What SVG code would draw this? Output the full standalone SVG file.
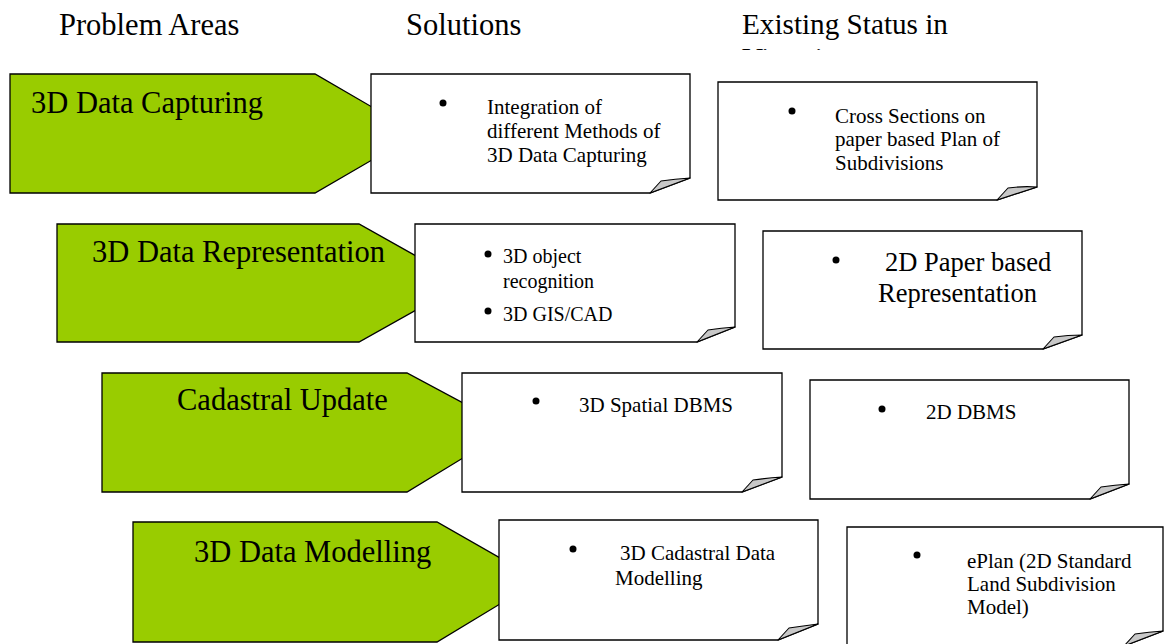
<svg xmlns="http://www.w3.org/2000/svg" width="1165" height="644" viewBox="0 0 1165 644">
<defs>
<style>
.arrow{fill:#99CC00;stroke:#000;stroke-width:1.3;stroke-linejoin:miter}
.note{fill:#fff;stroke:#000;stroke-width:1.3}
.flap{fill:#c8c8c8;stroke:#000;stroke-width:1.1;stroke-linejoin:round}
.h{font-family:"Liberation Serif","Times New Roman",serif;font-size:30.5px;fill:#000}
.h2{font-family:"Liberation Serif","Times New Roman",serif;font-size:29.2px;fill:#000}
.lbl{font-family:"Liberation Serif","Times New Roman",serif;font-size:30.5px;fill:#000}
.t{font-family:"Liberation Serif","Times New Roman",serif;font-size:21px;fill:#000}
.ts{font-family:"Liberation Serif","Times New Roman",serif;font-size:20px;fill:#000}
.tl{font-family:"Liberation Serif","Times New Roman",serif;font-size:26.5px;fill:#000}
.dot{fill:#000}
</style>
<clipPath id="hdclip"><rect x="700" y="0" width="400" height="50"/></clipPath>
</defs>
<rect width="1165" height="644" fill="#fff"/>

<g id="headers">
<text class="h" x="59" y="35">Problem Areas</text>
<text class="h" x="406" y="35">Solutions</text>
<text class="h2" x="742" y="34">Existing Status in</text>
<text class="h2" x="742" y="68" clip-path="url(#hdclip)">Victoria</text>
</g>

<g id="connectors"></g>

<g id="problem-capturing">
<path class="arrow" d="M10,74 H315 L372,107 V160 L315,193 H10 Z"/>
<text class="lbl" x="31" y="113">3D Data Capturing</text>
</g>
<g id="problem-representation">
<path class="arrow" d="M57,224 H359 L416,256 V310 L359,342 H57 Z"/>
<text class="lbl" x="92" y="262">3D Data Representation</text>
</g>
<g id="problem-update">
<path class="arrow" d="M102,373 H407 L463,403 V458 L407,492 H102 Z"/>
<text class="lbl" x="177" y="410">Cadastral Update</text>
</g>
<g id="problem-modelling">
<path class="arrow" d="M133,522 H437 L500,558 V604 L437,642 H133 Z"/>
<text class="lbl" x="194" y="562">3D Data Modelling</text>
</g>

<g id="solution-capturing">
<path class="note" d="M371,74 H690 V178 L650,193 H371 Z"/>
<path class="flap" d="M650,193 L661,181 Q675,179 690,178 Z"/>
<circle class="dot" cx="443" cy="103" r="3.5"/>
<text class="t" x="487" y="114">Integration of</text>
<text class="t" x="487" y="138">different Methods of</text>
<text class="t" x="487" y="162">3D Data Capturing</text>
</g>
<g id="status-capturing">
<path class="note" d="M718,82 H1037 V187 L997,200 H718 Z"/>
<path class="flap" d="M997,200 L1008,188 Q1022,186 1037,187 Z"/>
<circle class="dot" cx="792" cy="111" r="3.5"/>
<text class="t" x="835" y="123">Cross Sections on</text>
<text class="t" x="835" y="146">paper based Plan of</text>
<text class="t" x="835" y="170">Subdivisions</text>
</g>

<g id="solution-representation">
<path class="note" d="M415,224 H735 V327 L697,342 H415 Z"/>
<path class="flap" d="M697,342 L708,330 Q721,328 735,327 Z"/>
<circle class="dot" cx="488" cy="254" r="3.5"/>
<text class="ts" x="503" y="263">3D object</text>
<text class="ts" x="503" y="288">recognition</text>
<circle class="dot" cx="488" cy="311" r="3.5"/>
<text class="ts" x="503" y="321">3D GIS/CAD</text>
</g>
<g id="status-representation">
<path class="note" d="M763,231 H1082 V335 L1043,349 H763 Z"/>
<path class="flap" d="M1043,349 L1054,337 Q1068,335 1082,335 Z"/>
<circle class="dot" cx="836" cy="260" r="3.5"/>
<text class="tl" x="885" y="271">2D Paper based</text>
<text class="tl" x="878" y="302">Representation</text>
</g>

<g id="solution-update">
<path class="note" d="M462,373 H782 V477 L742,492 H462 Z"/>
<path class="flap" d="M742,492 L753,480 Q767,478 782,477 Z"/>
<circle class="dot" cx="536" cy="401" r="3.5"/>
<text class="t" x="579" y="412">3D Spatial DBMS</text>
</g>
<g id="status-update">
<path class="note" d="M810,380 H1129 V484 L1090,499 H810 Z"/>
<path class="flap" d="M1090,499 L1101,487 Q1115,485 1129,484 Z"/>
<circle class="dot" cx="882" cy="409" r="3.5"/>
<text class="t" x="926" y="419">2D DBMS</text>
</g>

<g id="solution-modelling">
<path class="note" d="M499,520 H818 V624 L778,640 H499 Z"/>
<path class="flap" d="M778,640 L789,628 Q803,626 818,624 Z"/>
<circle class="dot" cx="573" cy="549" r="3.5"/>
<text class="t" x="620" y="560">3D Cadastral Data</text>
<text class="t" x="615" y="585">Modelling</text>
</g>
<g id="status-modelling">
<path class="note" d="M847,527 H1163 V631 L1124,646 H847 Z"/>
<path class="flap" d="M1124,646 L1135,634 Q1149,632 1163,631 Z"/>
<circle class="dot" cx="917" cy="555" r="3.5"/>
<text class="t" x="967" y="568">ePlan (2D Standard</text>
<text class="t" x="967" y="591">Land Subdivision</text>
<text class="t" x="967" y="614">Model)</text>
</g>
</svg>
